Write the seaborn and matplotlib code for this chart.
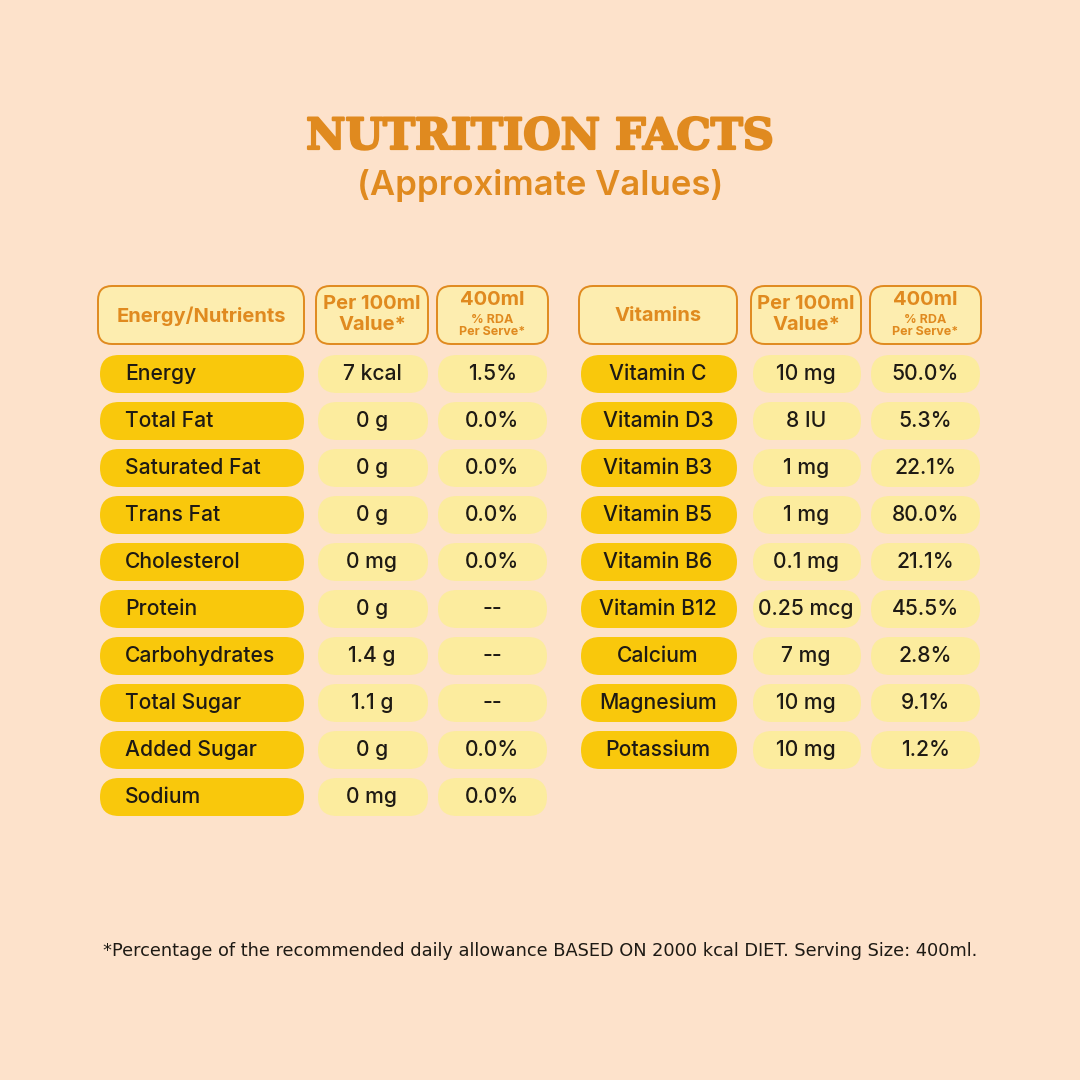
import matplotlib
matplotlib.use("Agg")
import matplotlib.pyplot as plt
import matplotlib.patheffects as pe
from matplotlib.patches import FancyBboxPatch
import seaborn as sns

# ----- data -----
nutrients = ["Energy", "Total Fat", "Saturated Fat", "Trans Fat", "Cholesterol",
             "Protein", "Carbohydrates", "Total Sugar", "Added Sugar", "Sodium"]
nutrient_per100 = ["7 kcal", "0 g", "0 g", "0 g", "0 mg",
                   "0 g", "1.4 g", "1.1 g", "0 g", "0 mg"]
nutrient_rda = ["1.5%", "0.0%", "0.0%", "0.0%", "0.0%",
                "--", "--", "--", "0.0%", "0.0%"]

vitamins = ["Vitamin C", "Vitamin D3", "Vitamin B3", "Vitamin B5", "Vitamin B6",
            "Vitamin B12", "Calcium", "Magnesium", "Potassium"]
vitamin_per100 = ["10 mg", "8 IU", "1 mg", "1 mg", "0.1 mg",
                  "0.25 mcg", "7 mg", "10 mg", "10 mg"]
vitamin_rda = ["50.0%", "5.3%", "22.1%", "80.0%", "21.1%",
               "45.5%", "2.8%", "9.1%", "1.2%"]

title = "NUTRITION FACTS"
subtitle = "(Approximate Values)"
footnote = ("*Percentage of the recommended daily allowance BASED ON 2000 kcal DIET. "
            "Serving Size: 400ml.")

# ----- style -----
BG = "#FDE2CB"
ORANGE = "#E08A1F"
DARK_Y = "#F9C80C"
PALE_Y = "#FCEC9E"
HEAD_FILL = "#FDEDAF"
INK = "#1E1A14"

sns.set_theme(style="white")
plt.rcParams["font.family"] = ["Inter", "DejaVu Sans"]

fig = plt.figure(figsize=(10.8, 10.8), dpi=100, facecolor=BG)
ax = fig.add_axes([0, 0, 1, 1])
ax.set_xlim(0, 1080)
ax.set_ylim(1080, 0)
ax.set_facecolor(BG)
ax.axis("off")


def pill(x0, x1, yc, h, color, edge=None, r=None, lw=0):
    if r is None:
        r = h / 2
    p = FancyBboxPatch((x0, yc - h / 2), x1 - x0, h,
                       boxstyle=f"round,pad=0,rounding_size={r}",
                       facecolor=color, edgecolor=edge if edge else "none",
                       linewidth=lw)
    ax.add_patch(p)


# title block (a thin stroke makes the serif look heavier)
ax.text(540, 137, title, ha="center", va="center", color=ORANGE,
        fontsize=31, fontweight="bold", family=["DejaVu Serif"],
        path_effects=[pe.withStroke(linewidth=1.6, foreground=ORANGE)])
ax.text(540, 186, subtitle, ha="center", va="center", color=ORANGE,
        fontsize=25, fontweight="semibold")

# table layout
row0 = 374
step = 47
row_h = 38
head_y = 315
head_h = 58
body_fs = 15.2
head_fs = 14.5

tables = [
    dict(names=nutrients, v1=nutrient_per100, v2=nutrient_rda,
         cols=[(98, 304), (316, 428), (437, 548)], label="Energy/Nutrients",
         align="left"),
    dict(names=vitamins, v1=vitamin_per100, v2=vitamin_rda,
         cols=[(579, 737), (751, 861), (870, 981)], label="Vitamins",
         align="center"),
]

for t in tables:
    (a0, a1), (b0, b1), (c0, c1) = t["cols"]
    # header boxes
    for x0, x1 in t["cols"]:
        pill(x0, x1, head_y, head_h, HEAD_FILL, edge=ORANGE, r=14, lw=1.4)
    ax.text((a0 + a1) / 2, head_y + 1, t["label"], ha="center", va="center",
            color=ORANGE, fontsize=head_fs, fontweight="bold")
    ax.text((b0 + b1) / 2, head_y - 11, "Per 100ml", ha="center", va="center",
            color=ORANGE, fontsize=head_fs, fontweight="bold")
    ax.text((b0 + b1) / 2, head_y + 10, "Value*", ha="center", va="center",
            color=ORANGE, fontsize=head_fs, fontweight="bold")
    ax.text((c0 + c1) / 2, head_y - 15, "400ml", ha="center", va="center",
            color=ORANGE, fontsize=head_fs, fontweight="bold")
    ax.text((c0 + c1) / 2, head_y + 5, "% RDA", ha="center", va="center",
            color=ORANGE, fontsize=9, fontweight="bold")
    ax.text((c0 + c1) / 2, head_y + 17, "Per Serve*", ha="center", va="center",
            color=ORANGE, fontsize=9, fontweight="bold")

    # rows
    for i, (name, v1, v2) in enumerate(zip(t["names"], t["v1"], t["v2"])):
        yc = row0 + i * step
        pill(a0 + 2, a1, yc, row_h, DARK_Y)
        pill(b0 + 2, b1, yc, row_h, PALE_Y)
        pill(c0 + 1, c1 - 1, yc, row_h, PALE_Y)
        if t["align"] == "left":
            ax.text(a0 + 27, yc, name, ha="left", va="center", color=INK,
                    fontsize=body_fs, fontweight="medium")
        else:
            ax.text((a0 + a1) / 2, yc, name, ha="center", va="center",
                    color=INK, fontsize=body_fs, fontweight="medium")
        ax.text((b0 + b1) / 2, yc, v1, ha="center", va="center", color=INK,
                fontsize=body_fs, fontweight="medium")
        ax.text((c0 + c1) / 2, yc, v2, ha="center", va="center", color=INK,
                fontsize=body_fs, fontweight="medium")

# footnote
ax.text(540, 951, footnote, ha="center", va="center", color=INK,
        fontsize=12.8, family=["DejaVu Sans"])

fig.savefig("out.png", dpi=100, facecolor=BG)
